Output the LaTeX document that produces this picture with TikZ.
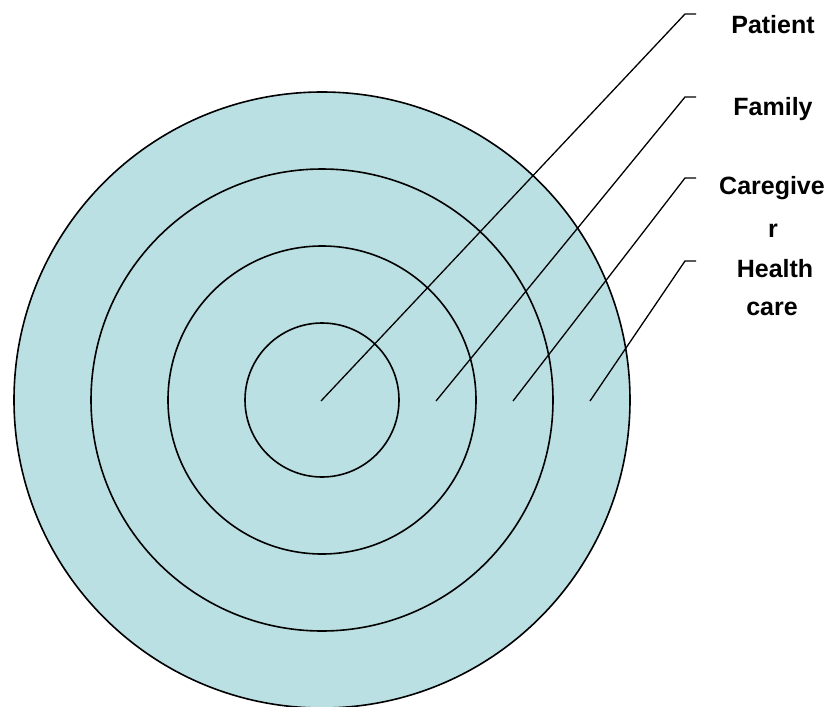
\documentclass[tikz,border=0pt]{standalone}
\usepackage{fontspec}
\setmainfont{Liberation Sans}
\definecolor{ringfill}{RGB}{187,224,227}
\begin{document}
\begin{tikzpicture}[x=1pt,y=-1pt,
  ring/.style={circle,draw=black,line width=1.6pt,fill=ringfill,inner sep=0pt},
  leader/.style={draw=black,line width=1.3pt},
  lbl/.style={anchor=base,font=\fontsize{25}{25}\selectfont\bfseries,inner sep=0pt}]
\useasboundingbox (0,0) rectangle (833,707);
\node[ring,minimum size=616pt] (r4) at (322,400) {};
\node[ring,minimum size=462pt] (r3) at (322,400) {};
\node[ring,minimum size=308pt] (r2) at (322,400) {};
\node[ring,minimum size=154pt] (r1) at (322,400) {};
% leader start points
\coordinate (s1) at (321,401);
\coordinate (s2) at (436,401);
\coordinate (s3) at (513,401);
\coordinate (s4) at (590,401);
% bends and ends
\coordinate (b1) at (685,14);  \coordinate (e1) at (696,14);
\coordinate (b2) at (685,97);  \coordinate (e2) at (696,97);
\coordinate (b3) at (685,178); \coordinate (e3) at (696,178);
\coordinate (b4) at (685,261); \coordinate (e4) at (696,261);
\draw[leader] (s1) -- (b1) -- (e1);
\draw[leader] (s2) -- (b2) -- (e2);
\draw[leader] (s3) -- (b3) -- (e3);
\draw[leader] (s4) -- (b4) -- (e4);
% labels
\node[lbl] (patient) at (773,33) {Patient};
\node[lbl] (family) at (773,115) {Family};
\node[lbl] (care1) at (772,194) {Caregive};
\node[lbl] (care2) at (773,237) {r};
\node[lbl] (health1) at (775,277) {Health};
\node[lbl] (health2) at (772,315) {care};
\end{tikzpicture}
\end{document}
